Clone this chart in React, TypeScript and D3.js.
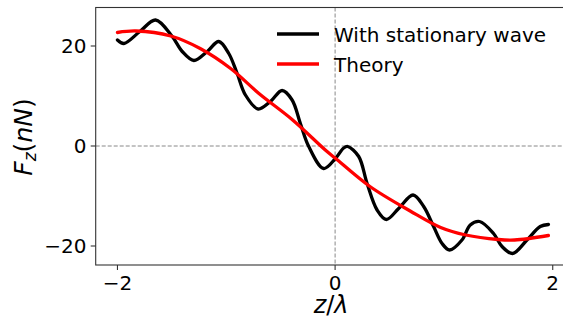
import React from "react";
import * as d3 from "d3";

// Measured curve with stationary wave (z/λ, F_z in nN)
const waveZ = [-2.0, -1.941, -1.794, -1.65, -1.497, -1.405, -1.298, -1.175, -1.069, -0.977, -0.9, -0.824, -0.707, -0.594, -0.487, -0.395, -0.319, -0.242, -0.105, 0.003, 0.079, 0.116, 0.217, 0.294, 0.386, 0.471, 0.584, 0.716, 0.814, 0.905, 0.983, 1.052, 1.166, 1.242, 1.328, 1.456, 1.534, 1.631, 1.763, 1.885, 1.961];
const waveF = [21.2, 20.5, 22.9, 25.2, 21.9, 18.9, 17.1, 18.9, 20.9, 18.5, 14.5, 10.2, 7.4, 8.9, 11.1, 9.2, 4.5, -0.1, -4.5, -2.5, -0.4, -0.1, -2.1, -7.5, -12.8, -14.7, -12.5, -9.8, -12.1, -16.1, -19.5, -20.8, -18.8, -15.8, -15.1, -17.5, -20.1, -21.5, -18.8, -16.1, -15.7];

// Theory curve
const theoryZ = [-2.0, -1.83, -1.51, -1.24, -0.96, -0.7, -0.39, -0.09, 0.0, 0.32, 0.69, 0.97, 1.2, 1.5, 1.65, 1.96];
const theoryF = [22.7, 23.0, 22.0, 19.5, 15.5, 10.5, 5.2, -0.8, -2.4, -8.1, -13.0, -16.3, -17.8, -18.7, -18.8, -17.9];

const xTicks = [-2, 0, 2];
const yTicks = [-20, 0, 20];
const seriesNames = ["With stationary wave", "Theory"];
const seriesColors = ["#000000", "#ff0000"];

const W = 563;
const H = 320;
const M = { left: 95.7, top: 7.5, right: 574.5, bottom: 265 };
const FONT = "DejaVu Sans, sans-serif";

export default function App() {
  const x = d3.scaleLinear().domain([-2.2, 2.2]).range([M.left, M.right]);
  const y = d3.scaleLinear().domain([-23.8, 27.7]).range([M.bottom, M.top]);

  const line = d3
    .line<[number, number]>()
    .x((d) => x(d[0]))
    .y((d) => y(d[1]))
    .curve(d3.curveCatmullRom.alpha(0.5));

  const wave = waveZ.map((z, i) => [z, waveF[i]] as [number, number]);
  const theory = theoryZ.map((z, i) => [z, theoryF[i]] as [number, number]);
  const fmt = (v: number) => (v < 0 ? "\u2212" + Math.abs(v) : String(v));
  const axisColor = "#333";

  return (
    <svg
      width={W}
      height={H}
      style={{ position: "absolute", left: 0, top: 0, background: "#fff" }}
      fontFamily={FONT}
    >
      <defs>
        <clipPath id="plotclip">
          <rect x={M.left} y={M.top} width={M.right - M.left} height={M.bottom - M.top} />
        </clipPath>
      </defs>
      {/* reference dashed lines */}
      <line x1={M.left} x2={M.right} y1={y(0)} y2={y(0)} stroke="#888" strokeWidth={1} strokeDasharray="4,2" />
      <line x1={x(0)} x2={x(0)} y1={M.top} y2={M.bottom} stroke="#888" strokeWidth={1} strokeDasharray="4,2" />

      <g clipPath="url(#plotclip)">
        <path d={line(wave) || ""} fill="none" stroke={seriesColors[0]} strokeWidth={3.3} strokeLinejoin="round" strokeLinecap="round" />
        <path d={line(theory) || ""} fill="none" stroke={seriesColors[1]} strokeWidth={3.3} strokeLinejoin="round" strokeLinecap="round" />
      </g>

      {/* spines */}
      <rect x={M.left} y={M.top} width={M.right - M.left} height={M.bottom - M.top} fill="none" stroke={axisColor} strokeWidth={1.1} />

      {/* x ticks */}
      {xTicks.map((t) => (
        <g key={"x" + t}>
          <line x1={x(t)} x2={x(t)} y1={M.bottom} y2={M.bottom + 5} stroke={axisColor} strokeWidth={1.1} />
          <text x={x(t)} y={289.5} textAnchor="middle" fontSize={20} fill="#000">
            {fmt(t)}
          </text>
        </g>
      ))}
      {/* y ticks */}
      {yTicks.map((t) => (
        <g key={"y" + t}>
          <line x1={M.left - 5} x2={M.left} y1={y(t)} y2={y(t)} stroke={axisColor} strokeWidth={1.1} />
          <text x={86.5} y={y(t) + 7.2} textAnchor="end" fontSize={20} fill="#000">
            {fmt(t)}
          </text>
        </g>
      ))}

      {/* axis labels */}
      <text x={(M.left + M.right) / 2 - 4} y={313} textAnchor="middle" fontSize={24} fill="#000">
        <tspan fontStyle="italic">z</tspan>
        <tspan>/</tspan>
        <tspan fontStyle="italic">λ</tspan>
      </text>
      <text transform={`translate(31.5, 137) rotate(-90)`} textAnchor="middle" fontSize={25} fill="#000">
        <tspan fontStyle="italic">F</tspan>
        <tspan fontStyle="italic" fontSize={17} dy={4}>z</tspan>
        <tspan dy={-4}>(</tspan>
        <tspan fontStyle="italic">nN</tspan>
        <tspan>)</tspan>
      </text>

      {/* legend */}
      {seriesNames.map((name, i) => (
        <g key={name}>
          <line x1={277} x2={319} y1={34 + i * 30} y2={34 + i * 30} stroke={seriesColors[i]} strokeWidth={3.3} />
          <text x={334} y={41.5 + i * 30} fontSize={20} fill="#000">
            {name}
          </text>
        </g>
      ))}
    </svg>
  );
}
